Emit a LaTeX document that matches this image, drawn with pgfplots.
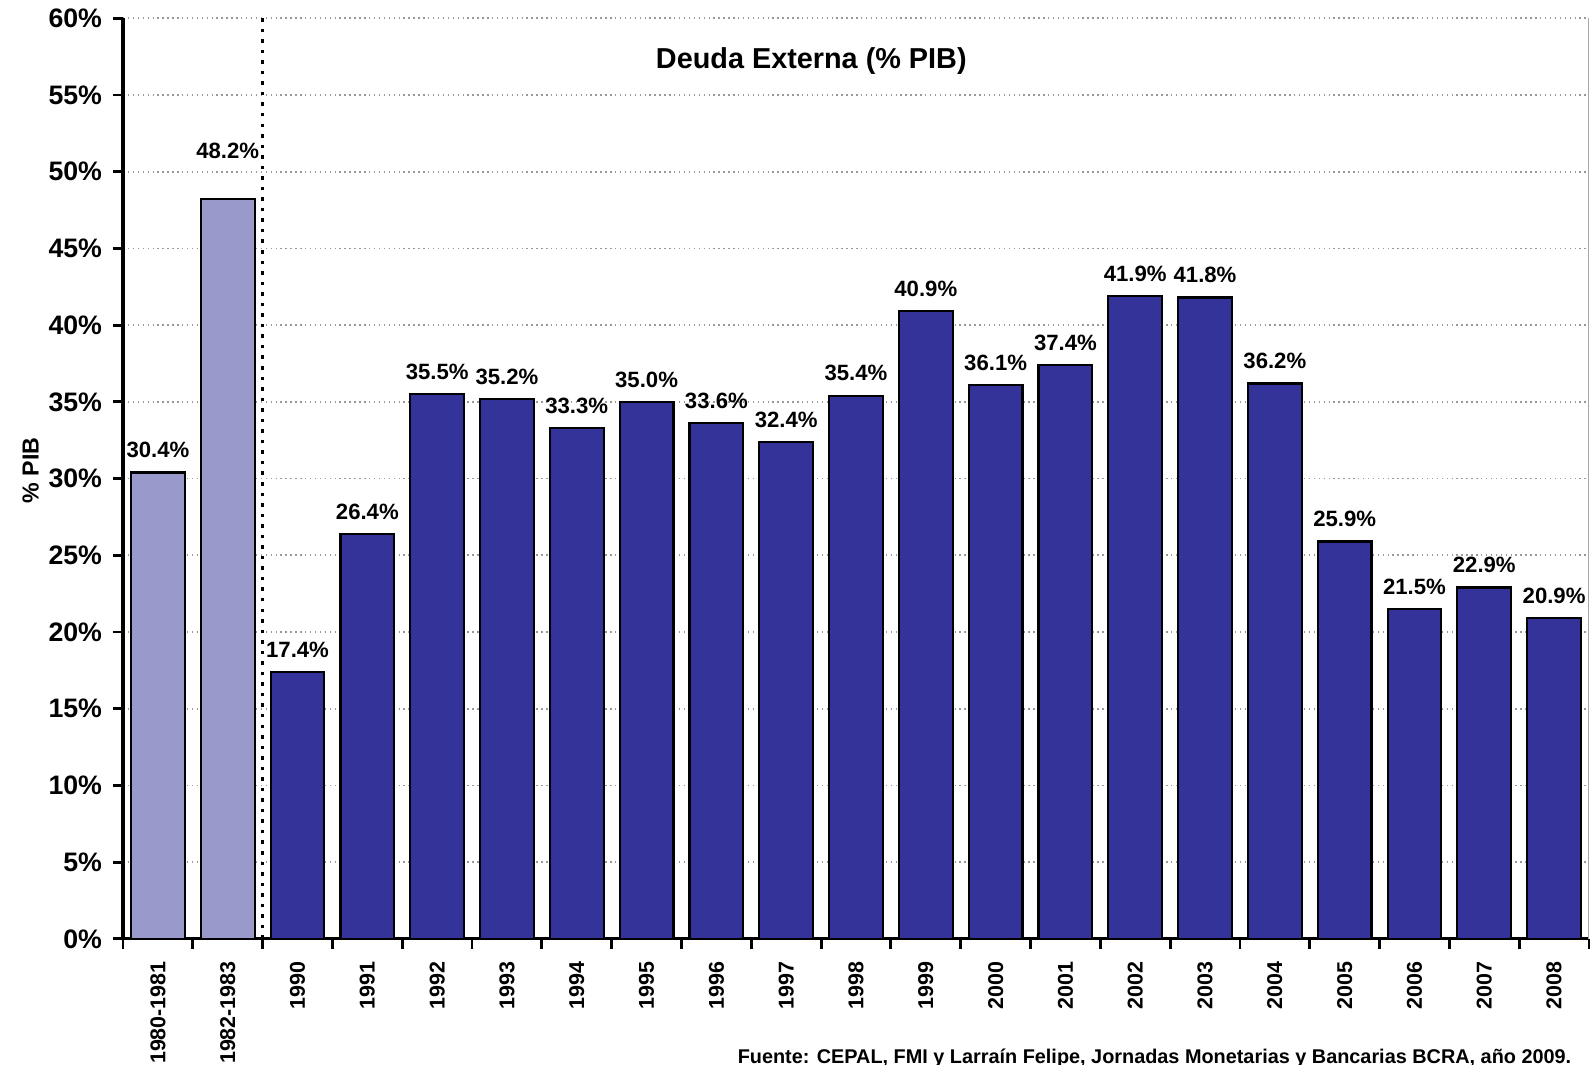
\documentclass[border=0pt]{standalone}
\usepackage{fontspec}
\setmainfont{Liberation Sans}
\usepackage{pgfplots}
\pgfplotsset{compat=1.18}
\definecolor{lightbar}{HTML}{9999CC}
\definecolor{darkbar}{HTML}{333399}
\begin{document}
\begin{tikzpicture}
\useasboundingbox (0,0) rectangle (15.95,10.65);
\clip (0,0) rectangle (15.95,10.65);
\begin{axis}[scale only axis,
width=14.66cm, height=9.206cm,
at={(1.23cm,1.261cm)}, anchor=south west,
xmin=-0.5, xmax=20.5, ymin=0, ymax=60,
axis lines=left,
axis line style={line width=0.9pt, -},
tick align=outside,
major tick length=0.1cm,
tick style={black, line width=0.8pt},
ytick={0,5,...,60},
yticklabels={0\%,5\%,10\%,15\%,20\%,25\%,30\%,35\%,40\%,45\%,50\%,55\%,60\%},
yticklabel style={font=\bfseries\fontsize{7.6}{8}\selectfont, xshift=0.4pt},
xtick={-0.5,0.5,...,20.5},
x tick label as interval,
xticklabels={1980-1981,1982-1983,1990,1991,1992,1993,1994,1995,1996,1997,1998,1999,2000,2001,2002,2003,2004,2005,2006,2007,2008},
xticklabel style={font=\bfseries\fontsize{6.1}{7}\selectfont, rotate=90, anchor=east, yshift=0pt},
ymajorgrids=true,
major grid style={gray!80, densely dotted, line width=0.5pt},
ylabel={\% PIB},
ylabel style={font=\bfseries\fontsize{6.6}{7}\selectfont, at={(axis description cs:-0.063,0.509)}, anchor=center},
/pgf/number format/assume math mode=true,
every node near coord/.append style={font=\bfseries\fontsize{6.3}{7}\selectfont, black, yshift=0.5pt},
]
\addplot[ybar, bar width=0.77, bar shift=0pt, fill=lightbar, draw=black, line width=0.6pt,
  nodes near coords={\pgfmathprintnumber[fixed,fixed zerofill,precision=1]{\pgfplotspointmeta}\%}]
  coordinates {(0,30.4)};
\addplot[ybar, bar width=0.77, bar shift=0pt, fill=lightbar, draw=black, line width=0.6pt,
  nodes near coords={\pgfmathprintnumber[fixed,fixed zerofill,precision=1]{\pgfplotspointmeta}\%},
  every node near coord/.append style={yshift=7.5pt}]
  coordinates {(1,48.2)};
\addplot[ybar, bar width=0.77, bar shift=0pt, fill=darkbar, draw=black, line width=0.6pt,
  nodes near coords={\pgfmathprintnumber[fixed,fixed zerofill,precision=1]{\pgfplotspointmeta}\%}]
  coordinates {(2,17.4) (3,26.4) (4,35.5) (5,35.2) (6,33.3) (7,35.0) (8,33.6) (9,32.4)
  (10,35.4) (11,40.9) (12,36.1) (13,37.4) (14,41.9) (15,41.8) (16,36.2) (17,25.9)
  (18,21.5) (19,22.9) (20,20.9)};
\draw[black, dotted, line width=1pt] (axis cs:1.5,0) -- (axis cs:1.5,60);
\draw[gray!70, line width=0.5pt] (axis cs:20.5,0) -- (axis cs:20.5,60);
\node[font=\bfseries\fontsize{8.2}{9}\selectfont] at (axis cs:9.36,57.2) {Deuda Externa (\% PIB)};
\end{axis}
\node[anchor=east, inner sep=0pt, font=\bfseries\fontsize{5.65}{6}\selectfont] at (15.72,0.07) {Fuente: CEPAL, FMI y Larraín Felipe, Jornadas Monetarias y Bancarias BCRA, año 2009.};
\end{tikzpicture}
\end{document}
